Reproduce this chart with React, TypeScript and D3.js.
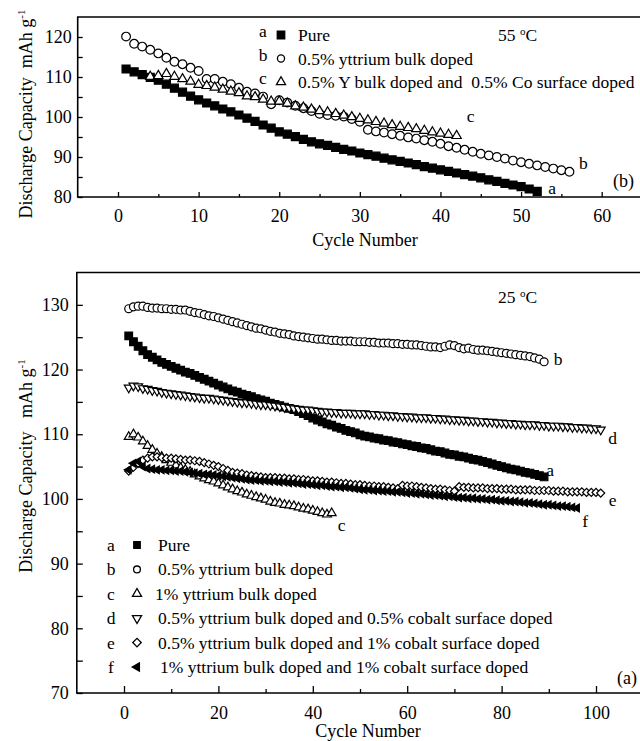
import React, { useEffect, useRef } from 'react';
import * as d3 from 'd3';

const FONT = '"Liberation Serif", "Times New Roman", serif';

// ---- panel (b): 55 oC, cycles start at 1 (c starts at 4)
const hotPure = [
  112.0, 111.3, 110.6, 109.9, 109.2, 108.2, 107.2, 106.2, 105.2, 104.3,
  103.5, 102.8, 102.0, 101.3, 100.5, 99.7, 98.9, 98.0, 97.2, 96.3,
  95.7, 95.1, 94.4, 93.8, 93.3, 92.9, 92.4, 91.9, 91.5, 91.0,
  90.6, 90.2, 89.7, 89.3, 88.9, 88.5, 88.1, 87.6, 87.2, 86.8,
  86.4, 86.0, 85.6, 85.2, 84.8, 84.3, 83.9, 83.4, 83.0, 82.6,
  82.0, 81.4,
];
const hotY05 = [
  120.1, 118.3, 117.6, 116.8, 115.9, 114.8, 113.8, 113.2, 112.3, 111.5,
  109.5, 109.5, 108.8, 108.2, 107.3, 106.3, 105.9, 105.1, 103.2, 104.2,
  103.6, 102.8, 102.2, 101.5, 100.8, 100.5, 100.3, 100.1, 99.5, 98.8,
  96.8, 96.4, 96.1, 95.7, 95.3, 94.9, 94.6, 94.2, 93.8, 93.3,
  92.7, 92.3, 91.8, 91.3, 90.8, 90.4, 90.0, 89.6, 89.1, 88.7,
  88.3, 87.9, 87.5, 87.1, 86.7, 86.3,
];
const hotY05Co05Start = 4;
const hotY05Co05 = [
  110.1, 110.3, 110.8, 110.1, 109.5, 108.9, 108.1, 107.8, 107.4, 106.9,
  106.4, 106.0, 105.2, 105.0, 104.4, 103.9, 103.9, 103.4, 102.7, 102.4,
  101.9, 101.5, 101.2, 100.8, 100.4, 100.0, 99.6, 99.2, 98.8, 98.4,
  98.0, 97.6, 97.3, 97.0, 96.6, 96.2, 95.9, 95.6, 95.3,
];
const hotLetters = ['a', 'b', 'c'];
const hotNames = ['Pure', '0.5% yttrium bulk doped', '0.5% Y bulk doped and  0.5% Co surface doped'];
const hotXTicks = [0, 10, 20, 30, 40, 50, 60];
const hotXMinor = [5, 15, 25, 35, 45, 55];
const hotYTicks = [80, 90, 100, 110, 120];
const hotYMinor = [85, 95, 105, 115];

// ---- panel (a): 25 oC, all start at cycle 1
const rtPure = [
  125.2, 124.3, 123.6, 122.9, 122.3, 121.9, 121.5, 121.1, 120.8, 120.5,
  120.2, 119.9, 119.6, 119.4, 119.1, 118.8, 118.5, 118.2, 117.9, 117.6,
  117.3, 117.0, 116.7, 116.5, 116.2, 116.0, 115.8, 115.5, 115.3, 115.1,
  114.8, 114.6, 114.4, 114.2, 114.0, 113.8, 113.5, 113.2, 112.9, 112.5,
  112.2, 111.9, 111.6, 111.4, 111.1, 110.9, 110.6, 110.4, 110.2, 109.9,
  109.7, 109.6, 109.4, 109.3, 109.1, 109.0, 108.8, 108.7, 108.5, 108.4,
  108.2, 108.1, 107.9, 107.8, 107.6, 107.4, 107.3, 107.1, 106.9, 106.8,
  106.6, 106.5, 106.3, 106.1, 106.0, 105.8, 105.6, 105.4, 105.2, 105.0,
  104.8, 104.6, 104.5, 104.3, 104.1, 104.0, 103.8, 103.6, 103.4,
];
const rtY05 = [
  129.4, 129.7, 129.8, 129.8, 129.6, 129.5, 129.5, 129.4, 129.4, 129.3,
  129.3, 129.2, 129.2, 129.0, 128.8, 128.7, 128.5, 128.3, 128.2, 128.0,
  127.8, 127.6, 127.4, 127.2, 127.0, 126.8, 126.6, 126.4, 126.3, 126.1,
  125.9, 125.8, 125.6, 125.5, 125.4, 125.2, 125.1, 125.0, 124.9, 124.8,
  124.7, 124.7, 124.6, 124.5, 124.5, 124.4, 124.4, 124.4, 124.3, 124.3,
  124.3, 124.2, 124.2, 124.1, 124.1, 124.1, 124.0, 124.0, 123.9, 123.9,
  123.8, 123.8, 123.7, 123.6, 123.5, 123.5, 123.4, 123.6, 123.8, 123.7,
  123.4, 123.2, 123.3, 123.1, 123.0, 123.0, 122.9, 122.8, 122.7, 122.6,
  122.5, 122.4, 122.3, 122.2, 122.1, 122.0, 121.8, 121.6, 121.2,
];
const rtY1 = [
  109.6, 110.0, 109.5, 108.9, 108.2, 107.6, 107.0, 106.5, 106.0, 105.6,
  105.2, 104.8, 104.5, 104.2, 103.8, 103.5, 103.2, 102.9, 102.7, 102.4,
  102.1, 101.8, 101.5, 101.2, 101.0, 100.7, 100.5, 100.3, 100.1, 99.9,
  99.6, 99.4, 99.3, 99.1, 99.0, 98.9, 98.7, 98.5, 98.4, 98.2,
  98.0, 97.8, 97.6, 97.8,
];
const rtY05Co05 = [
  117.2, 117.5, 117.4, 117.1, 117.0, 116.8, 116.7, 116.5, 116.4, 116.3,
  116.2, 116.1, 116.0, 115.9, 115.8, 115.7, 115.6, 115.6, 115.5, 115.4,
  115.3, 115.2, 115.1, 115.0, 114.9, 114.9, 114.8, 114.7, 114.6, 114.6,
  114.5, 114.4, 114.3, 114.2, 114.1, 114.0, 113.9, 113.8, 113.8, 113.7,
  113.6, 113.5, 113.5, 113.4, 113.4, 113.3, 113.3, 113.3, 113.2, 113.2,
  113.2, 113.1, 113.1, 113.0, 113.0, 112.9, 112.9, 112.8, 112.8, 112.7,
  112.7, 112.6, 112.6, 112.6, 112.5, 112.5, 112.4, 112.4, 112.3, 112.3,
  112.2, 112.2, 112.1, 112.1, 112.0, 112.0, 111.9, 111.9, 111.8, 111.8,
  111.7, 111.7, 111.6, 111.6, 111.5, 111.5, 111.5, 111.4, 111.4, 111.3,
  111.3, 111.3, 111.2, 111.2, 111.1, 111.1, 111.0, 111.0, 110.9, 110.9,
  110.7,
];
const rtY05Co1 = [
  104.3, 104.9, 105.5, 106.0, 106.3, 106.5, 106.5, 106.4, 106.3, 106.3,
  106.2, 106.1, 106.0, 106.0, 105.9, 105.8, 105.6, 105.4, 105.2, 105.0,
  104.7, 104.4, 104.1, 104.0, 103.9, 103.7, 103.6, 103.5, 103.4, 103.3,
  103.3, 103.3, 103.2, 103.2, 103.1, 103.1, 103.0, 103.0, 102.9, 102.8,
  102.8, 102.7, 102.6, 102.6, 102.5, 102.4, 102.4, 102.3, 102.2, 102.2,
  102.1, 102.0, 102.0, 101.9, 101.9, 101.8, 101.7, 101.6, 102.1, 102.0,
  102.0, 101.9, 101.8, 101.7, 101.6, 101.5, 101.5, 101.4, 101.3, 101.2,
  101.9, 101.8, 101.8, 101.7, 101.7, 101.7, 101.6, 101.6, 101.6, 101.5,
  101.5, 101.5, 101.4, 101.4, 101.4, 101.4, 101.3, 101.3, 101.3, 101.3,
  101.2, 101.2, 101.2, 101.1, 101.1, 101.1, 101.1, 101.0, 101.0, 101.0,
  100.9,
];
const rtY1Co1 = [
  104.5, 105.5, 105.8, 105.0, 104.7, 104.6, 104.5, 104.5, 104.4, 104.4,
  104.3, 104.3, 104.2, 104.1, 104.0, 103.9, 103.8, 103.8, 103.7, 103.6,
  103.5, 103.4, 103.3, 103.2, 103.1, 103.0, 102.9, 102.9, 102.8, 102.8,
  102.7, 102.7, 102.6, 102.6, 102.5, 102.5, 102.4, 102.3, 102.3, 102.2,
  102.1, 102.1, 102.0, 101.9, 101.9, 101.8, 101.8, 101.7, 101.6, 101.5,
  101.4, 101.4, 101.3, 101.3, 101.2, 101.2, 101.1, 101.1, 101.0, 100.9,
  100.9, 100.8, 100.8, 100.7, 100.6, 100.6, 100.5, 100.4, 100.4, 100.3,
  100.2, 100.2, 100.1, 100.1, 100.0, 100.0, 99.9, 99.9, 99.8, 99.7,
  99.7, 99.6, 99.6, 99.5, 99.4, 99.4, 99.3, 99.2, 99.1, 99.1,
  99.0, 98.9, 98.9, 98.8, 98.7, 98.6,
];
const rtLetters = ['a', 'b', 'c', 'd', 'e', 'f'];
const rtNames = [
  'Pure',
  '0.5% yttrium bulk doped',
  '1% yttrium bulk doped',
  '0.5% yttrium bulk doped and 0.5% cobalt surface doped',
  '0.5% yttrium bulk doped and 1% cobalt surface doped',
  '1% yttrium bulk doped and 1% cobalt surface doped',
];
const rtXTicks = [0, 20, 40, 60, 80, 100];
const rtXMinor = [10, 30, 50, 70, 90];
const rtYTicks = [70, 80, 90, 100, 110, 120, 130];
const rtYMinor = [75, 85, 95, 105, 115, 125];

// marker look
const SHAPES: Record<string, { type: d3.SymbolType; rotate: number; fill: string }> = {
  square: { type: d3.symbolSquare, rotate: 0, fill: '#000' },
  circle: { type: d3.symbolCircle, rotate: 0, fill: '#fff' },
  up: { type: d3.symbolTriangle, rotate: 0, fill: '#fff' },
  down: { type: d3.symbolTriangle, rotate: 180, fill: '#fff' },
  diamond: { type: d3.symbolSquare, rotate: 45, fill: '#fff' },
  left: { type: d3.symbolTriangle, rotate: -90, fill: '#000' },
};

const styleText = (sel: any, size = 17.5) =>
  sel.attr('font-family', FONT).attr('font-size', size).attr('fill', '#000').style('white-space', 'pre');

function drawPanel(svg: any, p: any) {
  const g = svg.append('g');
  const x = d3.scaleLinear().domain(p.xDomain).range(p.xRange);
  const y = d3.scaleLinear().domain(p.yDomain).range(p.yRange);
  const [xl, xr] = p.xRange;
  const [yb, yt] = p.yRange;

  // open frame: top, left, bottom (right side runs off the page)
  g.append('path')
    .attr('d', `M${xr},${yt}H${xl}V${yb}H${xr}`)
    .attr('fill', 'none')
    .attr('stroke', '#000')
    .attr('stroke-width', 1.6);

  const axis = (gen: any, transform: string) => {
    const a = g.append('g').attr('transform', transform).call(gen);
    a.select('.domain').remove();
    a.selectAll('line').attr('stroke', '#000').attr('stroke-width', 1.3);
    styleText(a.selectAll('text'), 18);
    return a;
  };
  axis(d3.axisBottom(x).tickValues(p.xTicks).tickSize(-p.xMajorLen).tickPadding(p.xPad).tickFormat(d3.format('d')), `translate(0,${yb})`);
  axis(d3.axisBottom(x).tickValues(p.xMinor).tickSize(-p.xMinorLen).tickFormat(() => ''), `translate(0,${yb})`);
  axis(d3.axisLeft(y).tickValues(p.yTicks).tickSize(-p.yLen).tickPadding(p.yPad).tickFormat(d3.format('d')), `translate(${xl},0)`);
  axis(d3.axisLeft(y).tickValues(p.yMinor).tickSize(-p.yLen).tickFormat(() => ''), `translate(${xl},0)`);

  // axis titles
  styleText(g.append('text'), 18)
    .attr('x', p.xTitle[0])
    .attr('y', p.xTitle[1])
    .attr('text-anchor', 'middle')
    .text('Cycle Number');
  const yTitle = styleText(g.append('text'), 18)
    .attr('transform', `translate(${p.yTitle[0]},${p.yTitle[1]}) rotate(-90)`)
    .attr('text-anchor', 'middle');
  yTitle.append('tspan').text('Discharge Capacity' + p.yGap + 'mAh g');
  yTitle.append('tspan').attr('dy', -7).attr('font-size', 11).text('-1');

  // temperature + panel tag
  const temp = styleText(g.append('text')).attr('x', p.temp[0]).attr('y', p.temp[1]);
  temp.append('tspan').text(p.tempText + ' ');
  temp.append('tspan').attr('dy', -6).attr('font-size', 11).text('o');
  temp.append('tspan').attr('dy', 6).text('C');
  styleText(g.append('text'), 18).attr('x', p.tag[0]).attr('y', p.tag[1]).text(p.tagText);

  // series, each open marker hides part of the one before it
  p.series.forEach((s: any) => {
    const sh = SHAPES[s.shape];
    const sym = d3.symbol(sh.type, p.sizes[s.shape]);
    g.append('g')
      .selectAll('path')
      .data(s.values)
      .join('path')
      .attr('d', sym)
      .attr('transform', (d: number, i: number) => `translate(${x(s.start + i)},${y(d)}) rotate(${sh.rotate})`)
      .attr('fill', sh.fill)
      .attr('stroke', '#000')
      .attr('stroke-width', 1.2);
    const last = s.values.length - 1;
    styleText(g.append('text'))
      .attr('x', x(s.start + last) + s.lab[0])
      .attr('y', y(s.values[last]) + s.lab[1])
      .attr('text-anchor', 'middle')
      .attr('dominant-baseline', 'central')
      .text(s.letter);
  });

  // legend
  p.series.forEach((s: any, i: number) => {
    const cy = p.legend.y0 + i * p.legend.step;
    const sh = SHAPES[s.shape];
    styleText(g.append('text'))
      .attr('x', p.legend.letterX)
      .attr('y', cy + p.legend.letterDy)
      .attr('text-anchor', 'middle')
      .attr('dominant-baseline', 'central')
      .text(s.letter);
    g.append('path')
      .attr('d', d3.symbol(sh.type, p.legendSizes[s.shape])())
      .attr('transform', `translate(${p.legend.markX},${cy}) rotate(${sh.rotate})`)
      .attr('fill', sh.fill)
      .attr('stroke', '#000')
      .attr('stroke-width', 1.3);
    styleText(g.append('text'))
      .attr('x', p.legend.textX + (s.textDx || 0))
      .attr('y', cy)
      .attr('dominant-baseline', 'central')
      .text(s.name);
  });
}

const App = () => {
  const ref = useRef<SVGSVGElement>(null);

  useEffect(() => {
    const svg = d3.select(ref.current);
    svg.selectAll('*').remove();

    const hotShapes = ['square', 'circle', 'up'];
    const hotVals = [hotPure, hotY05, hotY05Co05];
    const hotLab = [[15, -3], [14, -9], [14, -20]];
    drawPanel(svg, {
      xDomain: [-5, 65], xRange: [77.7, 642],
      yDomain: [80, 125], yRange: [197, 17],
      xTicks: hotXTicks, xMinor: hotXMinor, yTicks: hotYTicks, yMinor: hotYMinor,
      xMajorLen: 5, xMinorLen: 3, yLen: 5, xPad: 12, yPad: 6,
      xTitle: [365, 246], yTitle: [32, 114], yGap: '  ',
      temp: [498, 41], tempText: '55', tag: [613, 187], tagText: '(b)',
      sizes: { square: 64, circle: 60, up: 38 },
      legendSizes: { square: 56, circle: 40, up: 36 },
      legend: { y0: 35, step: 23.5, letterX: 263, letterDy: -4, markX: 281, textX: 298 },
      series: hotVals.map((v, i) => ({
        values: v,
        start: i === 2 ? hotY05Co05Start : 1,
        shape: hotShapes[i],
        letter: hotLetters[i],
        name: hotNames[i],
        lab: hotLab[i],
      })),
    });

    const rtShapes = ['square', 'circle', 'up', 'down', 'diamond', 'left'];
    const rtVals = [rtPure, rtY05, rtY1, rtY05Co05, rtY05Co1, rtY1Co1];
    const rtLab = [[6, -7], [14, -3], [10, 12], [12, 8], [12, 7], [8, 13]];
    const rtTextDx = [0, 0, -3, 0, 0, 2];
    drawPanel(svg, {
      xDomain: [-10, 110], xRange: [76.8, 643.2],
      yDomain: [70, 135], yRange: [693, 272.5],
      xTicks: rtXTicks, xMinor: rtXMinor, yTicks: rtYTicks, yMinor: rtYMinor,
      xMajorLen: 7, xMinorLen: 4, yLen: 6, xPad: 13, yPad: 8,
      xTitle: [368, 737], yTitle: [32, 466], yGap: '   ',
      temp: [498, 303], tempText: '25', tag: [617, 684], tagText: '(a)',
      sizes: { square: 58, circle: 50, up: 34, down: 34, diamond: 32, left: 26 },
      legendSizes: { square: 42, circle: 36, up: 36, down: 36, diamond: 36, left: 30 },
      legend: { y0: 545, step: 24.4, letterX: 111, letterDy: 0, markX: 137, textX: 158 },
      series: rtVals.map((v, i) => ({
        values: v,
        start: 1,
        shape: rtShapes[i],
        letter: rtLetters[i],
        name: rtNames[i],
        lab: rtLab[i],
        textDx: rtTextDx[i],
      })),
    });
  }, []);

  return (
    <svg
      ref={ref}
      width={640}
      height={741}
      style={{ position: 'absolute', left: 0, top: 0, background: '#fff' }}
    />
  );
};

export default App;
